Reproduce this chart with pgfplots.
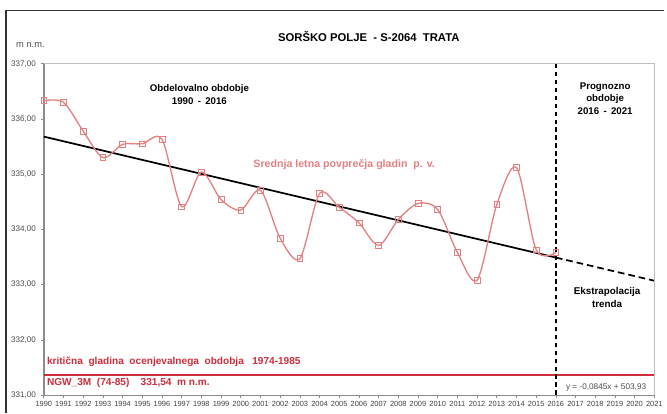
\documentclass[border=0pt]{standalone}
\usepackage{pgfplots}
\pgfplotsset{compat=1.18}
\usepackage{fontspec}
\setmainfont{Liberation Sans}
\definecolor{salmon}{RGB}{228,128,128}
\definecolor{critred}{RGB}{205,45,60}
\definecolor{axgray}{RGB}{140,140,140}
\begin{document}
\begin{tikzpicture}
\begin{axis}[
  scale only axis, width=459.75pt, height=249.5pt,
  xmin=1990, xmax=2021, ymin=331, ymax=337,
  xtick={1990,...,2021}, ytick={331,...,337},
  axis lines*=left,
  x axis line style={axgray},
  y axis line style={axgray, line width=1.4pt},
  tick align=outside, major tick length=2.5pt,
  tick style={axgray, line width=0.5pt},
  /pgf/number format/assume math mode=true,
  x tick label style={font=\fontsize{5.6}{6}\selectfont, text=black!75, /pgf/number format/1000 sep={}, yshift=1pt},
  y tick label style={font=\fontsize{6.1}{7}\selectfont, text=black!70, /pgf/number format/.cd, fixed, fixed zerofill, precision=2, use comma, 1000 sep={}},
  clip=false,
]
% trend (Excel linear fit) and extrapolation
\addplot[black, line width=1.3pt] coordinates {(1990,335.68) (2016,333.49)};
\addplot[black, line width=1.3pt, dash pattern=on 5pt off 3pt] coordinates {(2016,333.49) (2021,333.07)};
% annual means
\addplot[salmon, line width=1pt, smooth, tension=0.5, mark=square, mark size=2.2pt, mark options={solid, line width=0.5pt}] coordinates {
(1990,336.33) (1991,336.30) (1992,335.78) (1993,335.30) (1994,335.54)
(1995,335.55) (1996,335.63) (1997,334.41) (1998,335.04) (1999,334.54)
(2000,334.35) (2001,334.71) (2002,333.84) (2003,333.47) (2004,334.65)
(2005,334.40) (2006,334.12) (2007,333.71) (2008,334.18) (2009,334.47)
(2010,334.36) (2011,333.58) (2012,333.08) (2013,334.45) (2014,335.12)
(2015,333.63) (2016,333.58)};
% critical level
\addplot[color=critred, line width=1.3pt] coordinates {(1990,331.36) (2021,331.36)};
% 2016 separator
\addplot[black, line width=1pt, dash pattern=on 3.5pt off 2.5pt] coordinates {(2016,331) (2016,337)};

\draw[black!25] (rel axis cs:0,1) -- (rel axis cs:1,1) -- (rel axis cs:1,0);

\node[font=\bfseries\fontsize{8.5}{10}\selectfont] at (axis cs:2006.5,337.49) {SORŠKO POLJE \ - S-2064 \ TRATA};
\node[font=\fontsize{7}{8}\selectfont, text=black!70] at (axis cs:1989.32,337.34) {m n.m.};
\node[font=\bfseries\fontsize{7.3}{9.6}\selectfont, align=center] at (axis cs:1997.9,336.44) {Obdelovalno obdobje\\1990 \,- \,2016};
\node[font=\bfseries\fontsize{7.3}{9.6}\selectfont, align=center] at (axis cs:2018.5,336.37) {Prognozno\\obdobje\\2016 \,- \,2021};
\node[font=\bfseries\fontsize{8}{10}\selectfont, text=salmon] at (axis cs:2005.25,335.18) {Srednja letna povprečja gladin \ p. v.};
\node[font=\bfseries\fontsize{7.4}{9.6}\selectfont, align=center] at (axis cs:2018.6,332.77) {Ekstrapolacija\\trenda};
\node[font=\bfseries\fontsize{7.6}{9}\selectfont, text=critred, anchor=west, inner sep=0pt] at (axis cs:1990.15,331.60) {kritična \ gladina \ ocenjevalnega \ obdobja \ \ 1974-1985};
\node[font=\bfseries\fontsize{7.6}{9}\selectfont, text=critred, anchor=west, inner sep=0pt] at (axis cs:1990.15,331.22) {NGW\_3M \ (74-85) \ \ \ 331,54 \ m n.m.};
\node[font=\fontsize{6.2}{7}\selectfont, text=black!70] at (axis cs:2018.55,331.14) {y = -0,0845x + 503,93};
\end{axis}
% outer frame of the chart object
\draw[black!80, line width=0.8pt] ([shift={(-28.5pt,-13.7pt)}]current axis.south west) -- ([shift={(-28.5pt,289.3pt)}]current axis.south west) -- ([shift={(467.25pt,289.3pt)}]current axis.south west);
\useasboundingbox ([shift={(-33pt,-13.7pt)}]current axis.south west) rectangle ([shift={(7.5pt,48pt)}]current axis.north east);
\end{tikzpicture}
\end{document}
